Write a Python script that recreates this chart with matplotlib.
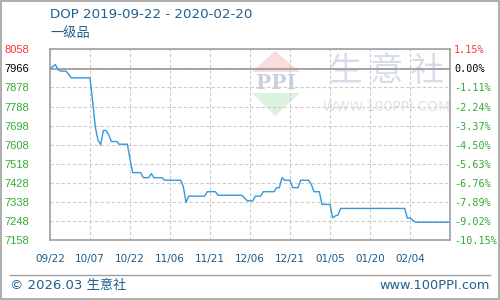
import numpy as np
import pandas as pd
import matplotlib
matplotlib.use('Agg')
import matplotlib.pyplot as plt
from matplotlib.patches import Polygon, Rectangle
from matplotlib.lines import Line2D

plt.rcParams['font.family'] = ['DejaVu Sans', 'Noto Sans CJK SC']

# === data ===
start = pd.Timestamp('2019-09-22')
day_offset = [0, 2, 3, 4, 6, 7, 8, 15, 16, 17, 18, 19, 20, 21, 22, 23, 25, 26, 29, 30, 31,
              34, 35, 37, 38, 39, 42, 43, 49, 50, 51, 52, 58, 59, 62, 63, 72, 74, 76, 77,
              79, 80, 84, 85, 86, 87, 88, 90, 91, 93, 94, 97, 98, 99, 101, 102, 105, 106,
              107, 108, 109, 133, 134, 135, 137, 150]
price = [7966, 7986, 7962, 7955, 7955, 7940, 7923, 7923, 7810, 7690, 7630, 7607, 7675, 7675,
         7655, 7623, 7623, 7610, 7610, 7540, 7476,
         7476, 7452, 7452, 7471, 7452, 7452, 7440, 7440, 7410, 7335, 7365, 7365, 7386, 7386,
         7369, 7369, 7343, 7343, 7365,
         7365, 7386, 7386, 7405, 7405, 7452, 7440, 7440, 7405, 7405, 7440, 7440, 7420, 7386,
         7386, 7326, 7326, 7262,
         7272, 7276, 7307, 7307, 7262, 7262, 7242, 7242]

base = 7966
y_ticks = [7158, 7248, 7338, 7428, 7518, 7608, 7698, 7788, 7878, 7968, 8058]
y_labels = ['7158', '7248', '7338', '7428', '7518', '7608', '7698', '7788', '7878', '7966', '8058']
pct_labels = ['-10.15%', '-9.02%', '-7.89%', '-6.76%', '-5.63%', '-4.50%', '-3.37%',
              '-2.24%', '-1.11%', '0.00%', '1.15%']
x_ticks = [0, 15, 30, 45, 60, 75, 90, 105, 120, 135]

# === plot ===
fig = plt.figure(figsize=(5, 3), dpi=100)
W, H = 500, 300

def fx(px):
    return px / W

def fy(py):
    return 1 - py / H

# outer frame
fig.patches.append(Rectangle((0.001, 0.002), 0.997, 0.995, transform=fig.transFigure,
                             fill=False, edgecolor='#a0a0a0', linewidth=1.2))

# watermark logo
fig.patches.append(Polygon([(fx(252), fy(72)), (fx(300), fy(72)), (fx(275), fy(51))],
                           closed=True, transform=fig.transFigure, facecolor='#fadcdc',
                           edgecolor='none', zorder=0))
fig.patches.append(Polygon([(fx(252), fy(93)), (fx(300), fy(93)), (fx(275), fy(116))],
                           closed=True, transform=fig.transFigure, facecolor='#dcf2e0',
                           edgecolor='none', zorder=0))
fig.text(fx(276), fy(83), 'PPI', fontsize=14.5, fontweight='bold', color='#c8d0e2',
         ha='center', va='center', family='DejaVu Serif', zorder=0)
fig.text(fx(387), fy(72), '生 意 社', fontsize=24, color='#d6dde8', ha='center',
         va='center', family=['Noto Sans CJK SC'], zorder=0)
fig.text(fx(387), fy(107), 'WWW.100PPI.COM', fontsize=10, color='#e2e2e2', ha='center',
         va='center', zorder=0)

ax = fig.add_axes([fx(50), fy(240), fx(400), (240 - 49.3) / H])
ax.set_facecolor('none')
ax.set_zorder(1)

x = np.array(day_offset)
ax.plot(x, price, color='#3399d9', linewidth=1.0, zorder=3)

ax.set_xlim(0, 150)
ax.set_ylim(7158, 8058)

ax.set_yticks(y_ticks)
ax.set_yticklabels(y_labels, family='Liberation Sans', fontsize=8)
for lab, v in zip(ax.get_yticklabels(), y_ticks):
    if v == 8058:
        lab.set_color('#ff3333')
    elif v == 7968:
        lab.set_color('black')
    else:
        lab.set_color('#33aa33')
for lab in ax.get_yticklabels():
    lab.set_horizontalalignment('left')
ax.tick_params(axis='y', length=0, pad=33)

dates = [(start + pd.Timedelta(days=d)).strftime('%m/%d') for d in x_ticks]
ax.set_xticks(x_ticks)
ax.set_xticklabels(dates, fontsize=7.5, color='#1a5b8c')
ax.tick_params(axis='x', length=0, pad=10)

ax.grid(True, linestyle=(0, (3, 2)), color='#cccccc', linewidth=0.8)
ax.axhline(base, color='#999999', linewidth=1.2, zorder=2)
for s in ax.spines.values():
    s.set_color('#a0a0a0')
    s.set_linewidth(1.2)

ax2 = ax.twinx()
ax2.set_ylim(7158, 8058)
ax2.set_yticks(y_ticks)
ax2.set_yticklabels(pct_labels, family='DejaVu Sans Mono', fontsize=7.3)
for lab, v in zip(ax2.get_yticklabels(), y_ticks):
    if v == 8058:
        lab.set_color('#ff3333')
    elif v == 7968:
        lab.set_color('black')
    else:
        lab.set_color('#33aa33')
ax2.tick_params(axis='y', length=0, pad=3)
for s in ax2.spines.values():
    s.set_visible(False)

# titles
fig.text(fx(50), fy(15), 'DOP 2019-09-22 - 2020-02-20', fontsize=9.6, color='#1f5f8f',
         ha='left', va='center')
fig.text(fx(50), fy(34), '一级品', fontsize=9.5, color='#1f5f8f', ha='left', va='center',
         family=['Noto Sans CJK SC'])

# footer
fig.lines.append(Line2D([fx(10), fx(490)], [fy(275), fy(275)], transform=fig.transFigure,
                        color='#a0a0a0', linewidth=1.0))
fig.text(fx(10), fy(285.5), '© 2026.03 生意社', fontsize=9.5, color='#1f5f8f',
         ha='left', va='center')
fig.text(fx(490), fy(285.5), 'www.100PPI.com', fontsize=9.3, color='#1f5f8f',
         ha='right', va='center')

fig.savefig('out.png', dpi=100)
